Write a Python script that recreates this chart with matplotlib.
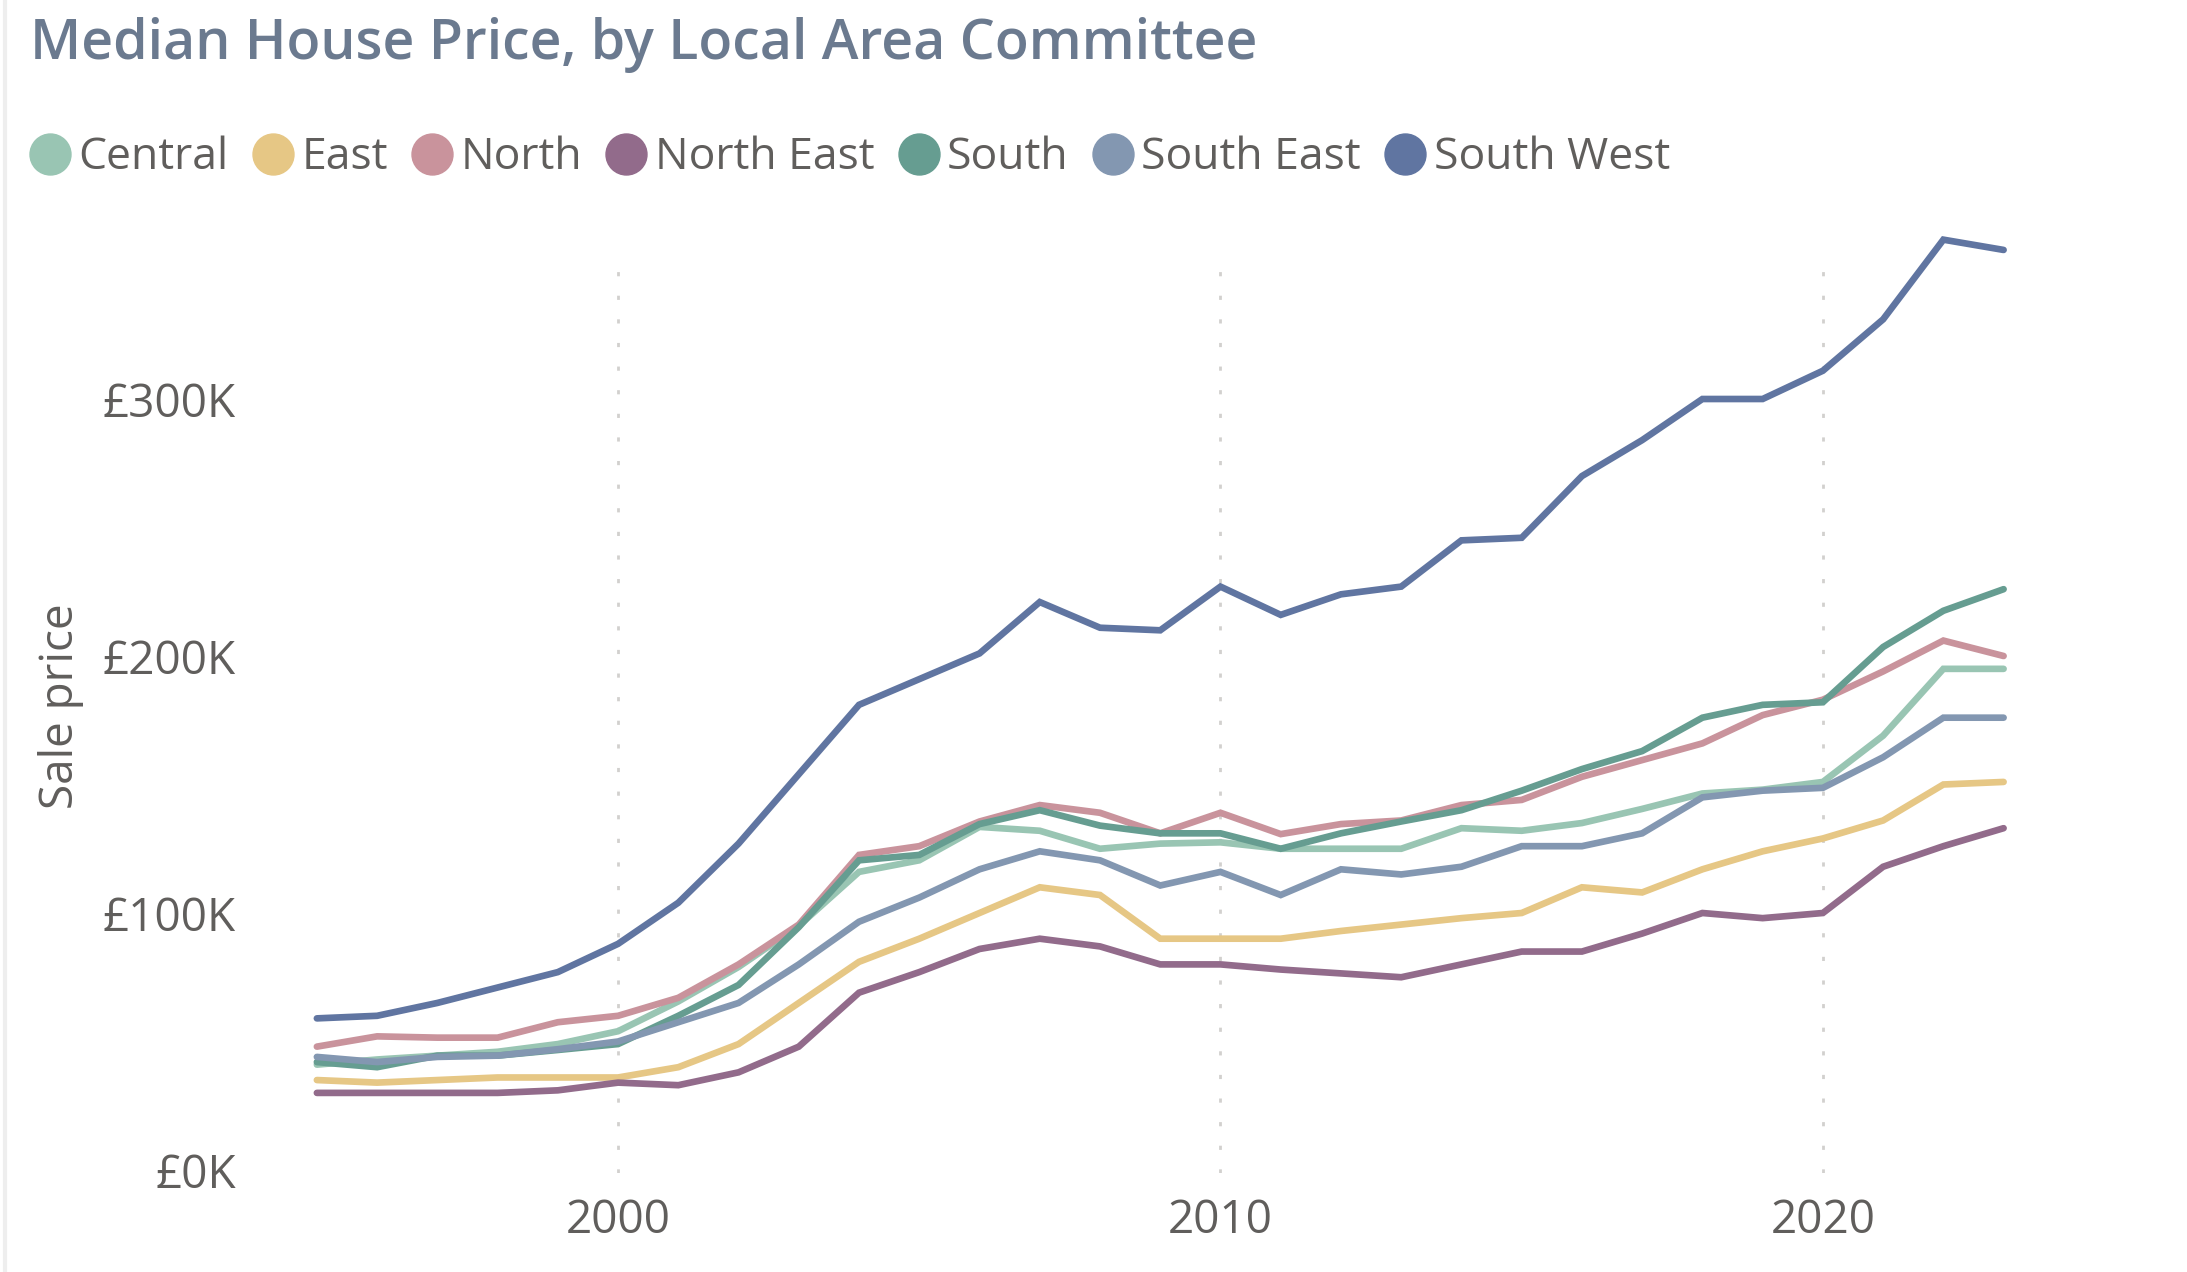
import matplotlib
matplotlib.use("Agg")
import matplotlib.pyplot as plt
from matplotlib.lines import Line2D
from matplotlib.ticker import FuncFormatter

plt.rcParams['font.family'] = ['Open Sans', 'DejaVu Sans']

years = list(range(1995, 2024))

central = [41, 43, 44.5, 46, 49, 54, 65.6, 79, 95, 116, 120.5, 133.5, 132, 125, 127, 127.5,
           125, 125, 125, 133, 132, 135, 140.5, 146.5, 148, 151, 169, 195, 195]
east = [35, 34, 35, 36, 36, 36, 40, 49, 65, 81, 90, 100, 110, 107, 90, 90,
        90, 93, 95.5, 98, 100, 110, 108, 117, 124, 129, 136, 150, 151]
north = [48, 52, 51.5, 51.5, 57.5, 60, 67, 80, 95.5, 122.6, 126, 135.6, 142, 139, 131, 139,
         130.7, 134.6, 136, 142, 144, 153, 159.5, 166, 177, 183, 194, 206, 200]
north_east = [30, 30, 30, 30, 31, 34, 33, 38, 48, 69, 77, 86, 90, 87, 80, 80,
              78, 76.5, 75, 80, 85, 85, 92, 100, 98, 100, 118, 126, 133]
south = [42, 40, 44.5, 44.5, 46.7, 49, 60, 72, 94.5, 120.5, 122.6, 134.6, 140, 134, 131, 131,
         125, 131, 135.6, 140, 147.6, 156, 163, 176, 181, 182, 203.5, 217.6, 226]
south_east = [44, 42, 44, 44.5, 47, 50, 57.5, 65, 80, 96.6, 106, 117, 124, 120.5, 110.7, 116,
              107, 117, 115, 118, 126, 126, 131, 145, 147.6, 148.7, 160.6, 176, 176]
south_west = [59, 60, 65, 71, 77, 88, 104, 127, 154, 181, 191, 201, 221, 211, 210, 227,
              216, 224, 227, 245, 246, 270, 284, 300, 300, 311, 331, 362, 358]

series_names = ["Central", "East", "North", "North East", "South", "South East", "South West"]
series_values = [central, east, north, north_east, south, south_east, south_west]
colors = ["#99c5b3", "#e6c785", "#c9939c", "#926b8b", "#669d91", "#8397b1", "#6075a1"]

W, H = 2187, 1272
fig = plt.figure(figsize=(W / 100, H / 100), dpi=100)
# plot area = extent of the dotted gridlines
ax = fig.add_axes([250 / W, (H - 1173) / H, 1900 / W, (1173 - 270) / H])

for name, vals, c in zip(series_names, series_values, colors):
    ax.plot(years, [v * 1000 for v in vals], color=c, lw=4.8, solid_capstyle='round',
            solid_joinstyle='miter', label=name, clip_on=False)

ax.set_xlim(1993.89, 2025.43)
ax.set_ylim(-1167, 350195)
ax.set_xticks([2000, 2010, 2020])
ax.set_yticks([0, 100000, 200000, 300000])
ax.yaxis.set_major_formatter(FuncFormatter(lambda v, p: "£%dK" % (v / 1000)))
ax.tick_params(length=0, labelsize=33, colors="#605e5c")
ax.tick_params(axis='y', pad=10)
ax.tick_params(axis='x', pad=18)
ax.grid(axis='x', color="#d2d0ce", linestyle=(0, (1.5, 7)), lw=2)
for s in ax.spines.values():
    s.set_visible(False)
ax.set_ylabel("Sale price", fontsize=33, color="#605e5c")
ax.yaxis.set_label_coords((84 - 250) / 1900, (1173 - 706) / 903)

fig.text(30 / W, 1 - 59 / H, "Median House Price, by Local Area Committee",
         fontsize=40, fontweight='semibold', color="#6b7a8f", va='baseline', ha='left')

handles = [Line2D([], [], marker='o', ls='none', markersize=29.5, color=c) for c in colors]
fig.legend(handles, series_names, loc='center left', bbox_to_anchor=(23.5 / W, 1 - 158 / H),
           ncol=7, frameon=False, fontsize=32, labelcolor="#605e5c",
           handletextpad=0.035, columnspacing=0.4, handlelength=1.2, borderaxespad=0, borderpad=0)

fig.add_artist(Line2D([5 / W, 5 / W], [0, 1], color="#eeeeee", lw=3))

fig.savefig("out.png", dpi=100, facecolor="white")
